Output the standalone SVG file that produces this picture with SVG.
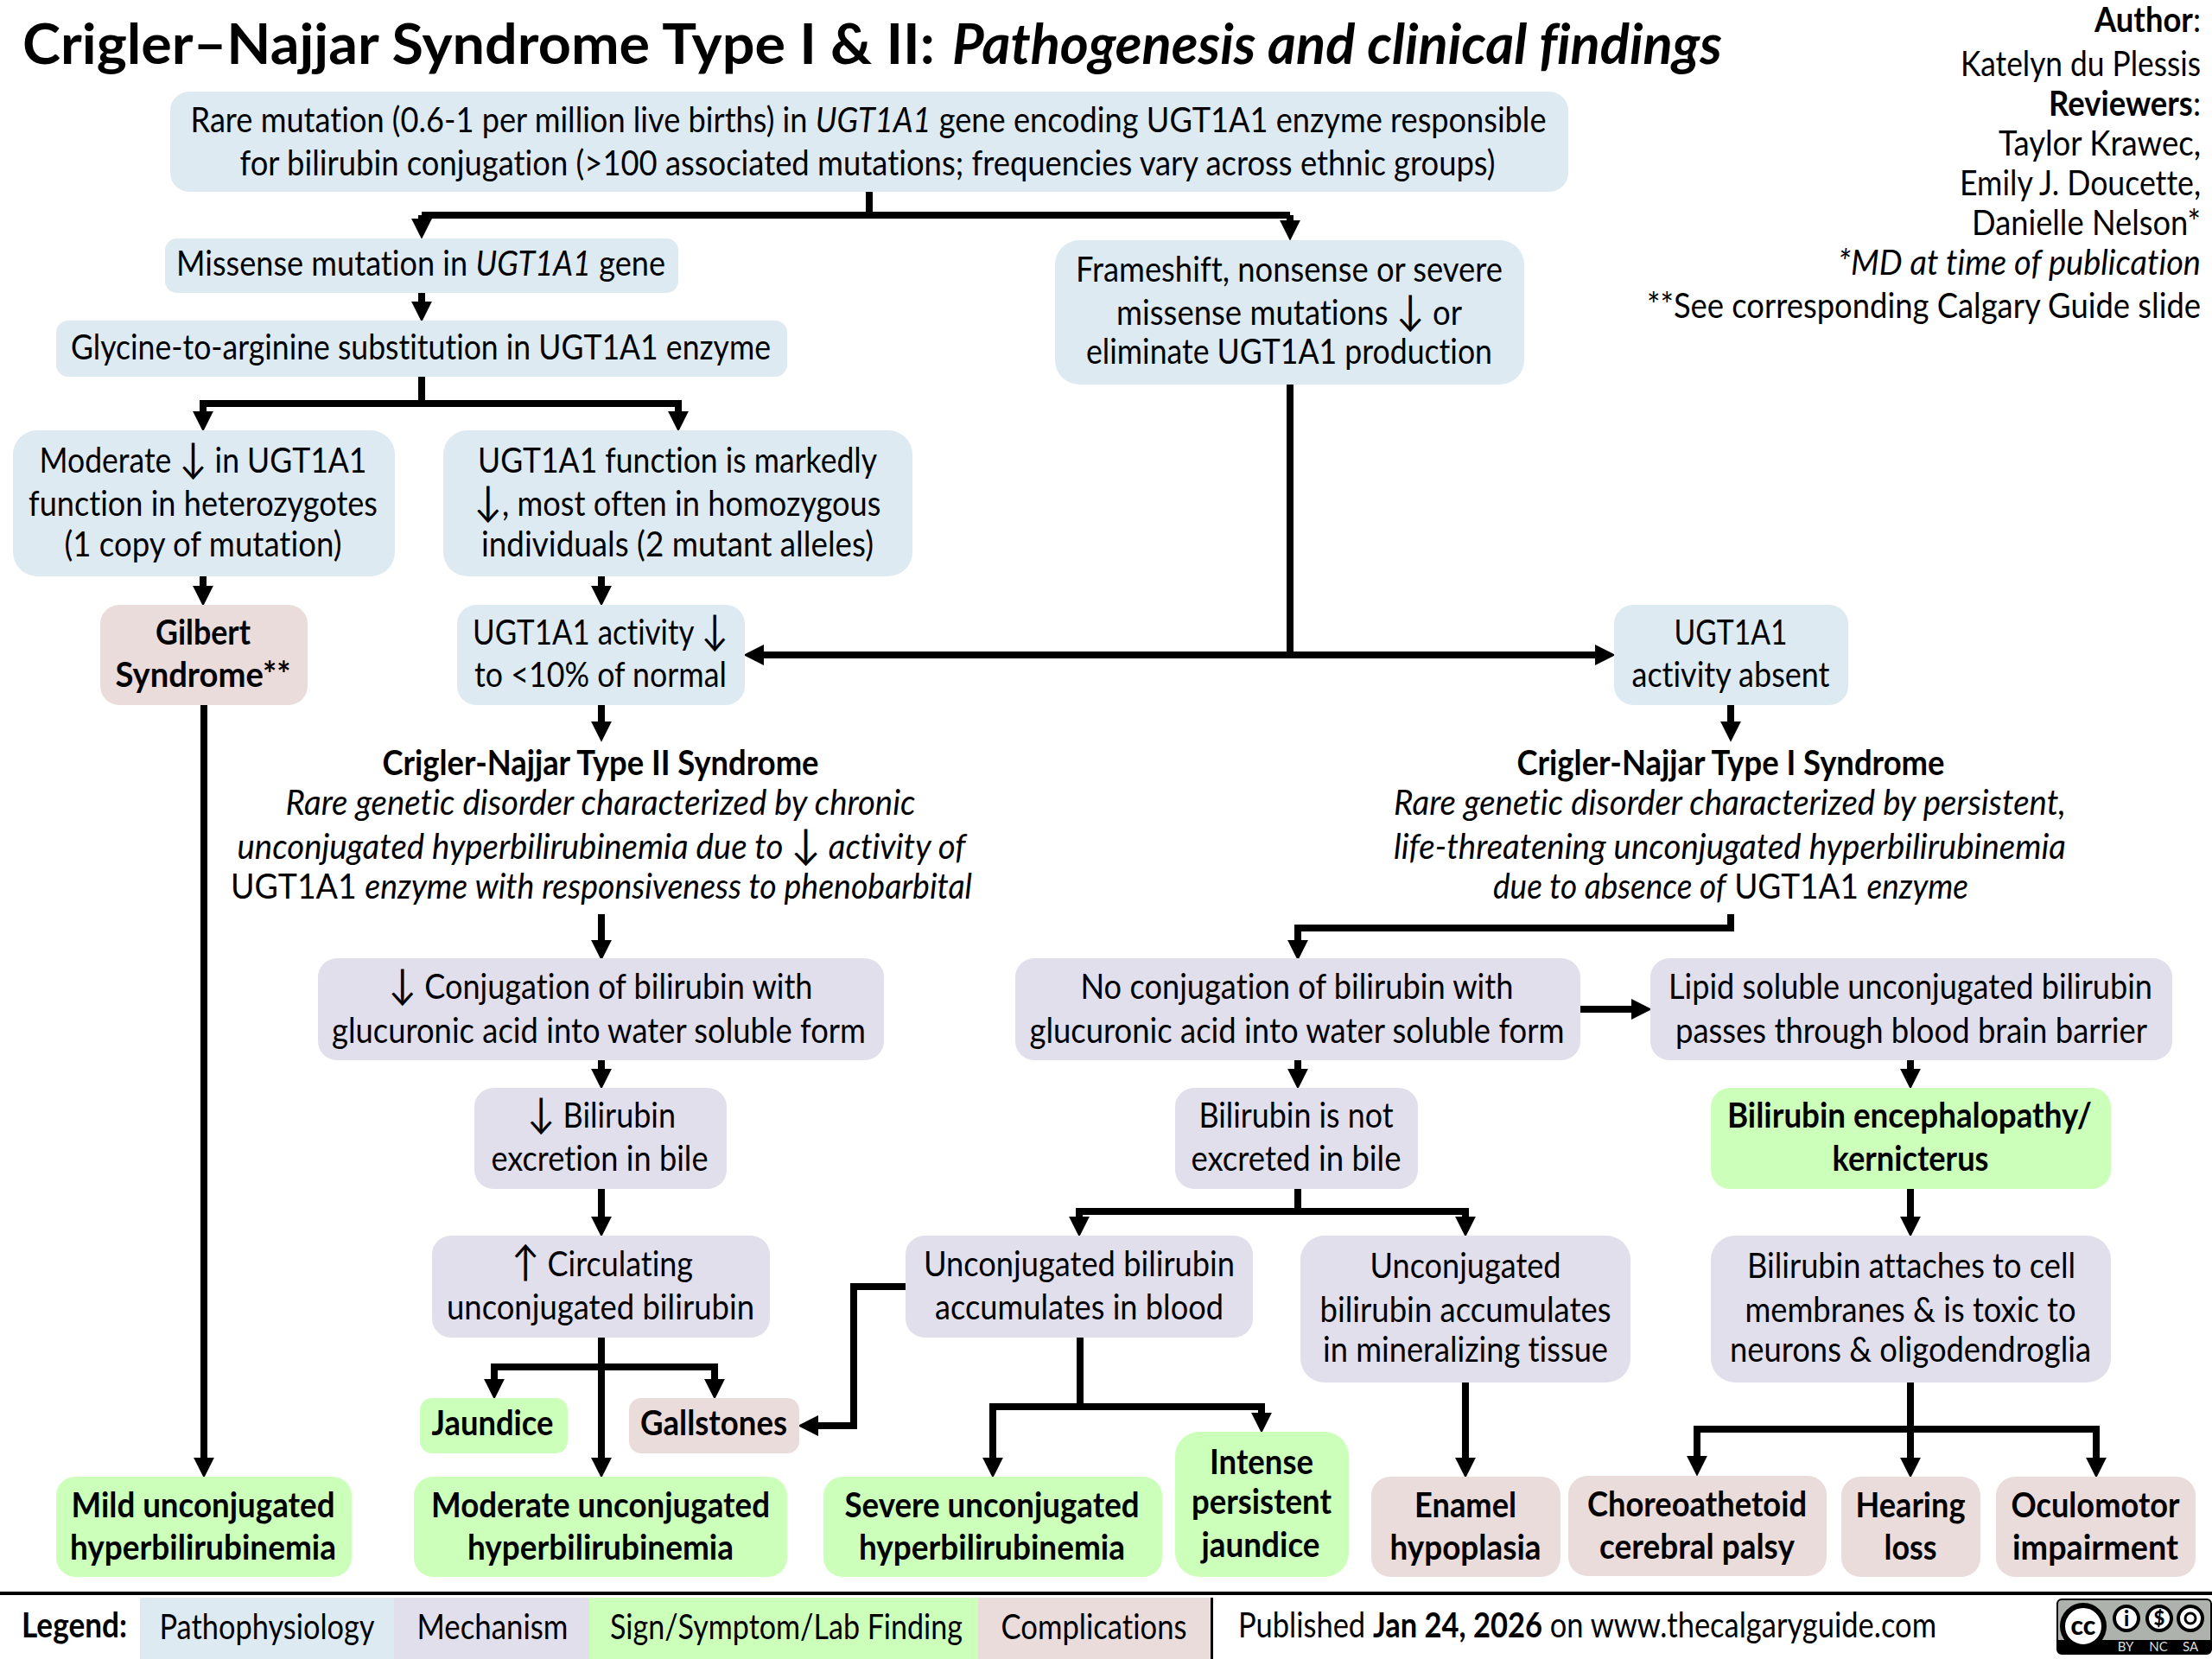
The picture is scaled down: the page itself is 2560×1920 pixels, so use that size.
<svg xmlns="http://www.w3.org/2000/svg" width="2560" height="1920" viewBox="0 0 2560 1920">
<style>
text{font-family:"Lato","Liberation Sans",sans-serif;font-size:40px;fill:#000;text-anchor:middle;font-variant-ligatures:none}
.b{font-weight:700}
.i{font-style:italic}
.r{text-anchor:end}
.s{text-anchor:start}
.ti{font-size:65px;font-weight:700;text-anchor:start}
.ar{font-size:48px;font-style:normal}
.blue{fill:#deeaf1}.pur{fill:#e1dfec}.grn{fill:#ccffba}.pnk{fill:#ebdcdc}
.c{fill:none;stroke:#000;stroke-width:8;stroke-linejoin:miter}
.cc{font-size:15px;fill:#ddd}
</style>
<defs>
<marker id="ah" markerUnits="userSpaceOnUse" markerWidth="24" markerHeight="24" viewBox="0 0 22 22" refX="2" refY="11" orient="auto"><path d="M0 0L22 11L0 22z" fill="#000"/></marker>
</defs>
<rect width="2560" height="1920" fill="#fff"/>
<g id="title">
<text class="ti" x="26" y="74"><tspan textLength="1056" lengthAdjust="spacingAndGlyphs">Crigler–Najjar Syndrome Type I &amp; II:</tspan> <tspan x="1102" class="i" textLength="891" lengthAdjust="spacingAndGlyphs">Pathogenesis and clinical findings</tspan></text>
</g>
<g id="authors">
<text class="r" x="2547" y="37" textLength="123" lengthAdjust="spacingAndGlyphs"><tspan class="b">Author</tspan>:</text>
<text class="r" x="2547" y="88" textLength="278" lengthAdjust="spacingAndGlyphs">Katelyn du Plessis</text>
<text class="r" x="2547" y="134" textLength="176" lengthAdjust="spacingAndGlyphs"><tspan class="b">Reviewers</tspan>:</text>
<text class="r" x="2547" y="180" textLength="234" lengthAdjust="spacingAndGlyphs">Taylor Krawec,</text>
<text class="r" x="2547" y="226" textLength="279" lengthAdjust="spacingAndGlyphs">Emily J. Doucette,</text>
<text class="r" x="2547" y="272" textLength="265" lengthAdjust="spacingAndGlyphs">Danielle Nelson*</text>
<text class="r i" x="2547" y="318" textLength="420" lengthAdjust="spacingAndGlyphs">*MD at time of publication</text>
<text class="r" x="2547" y="368" textLength="641" lengthAdjust="spacingAndGlyphs">**See corresponding Calgary Guide slide</text>
</g>
<g id="connectors">
<path class="c" d="M1006 222V249"/>
<path class="c" marker-end="url(#ah)" d="M488 249V255"/>
<path class="c" d="M488 249H1493"/>
<path class="c" marker-end="url(#ah)" d="M1493 249V257"/>
<path class="c" marker-end="url(#ah)" d="M488 339V351"/>
<path class="c" d="M488 436V467"/>
<path class="c" marker-end="url(#ah)" d="M785 467H235V478"/>
<path class="c" marker-end="url(#ah)" d="M235 467H785V478"/>
<path class="c" marker-end="url(#ah)" d="M235 667V680"/>
<path class="c" marker-end="url(#ah)" d="M696 667V680"/>
<path class="c" d="M1493 445V758"/>
<path class="c" marker-end="url(#ah)" d="M1493 758H882"/>
<path class="c" marker-end="url(#ah)" d="M1493 758H1848"/>
<path class="c" marker-end="url(#ah)" d="M236 816V1689"/>
<path class="c" marker-end="url(#ah)" d="M696 816V837"/>
<path class="c" marker-end="url(#ah)" d="M696 1058V1090"/>
<path class="c" marker-end="url(#ah)" d="M696 1227V1239"/>
<path class="c" marker-end="url(#ah)" d="M696 1376V1410"/>
<path class="c" marker-end="url(#ah)" d="M696 1548V1689"/>
<path class="c" marker-end="url(#ah)" d="M827 1582H572V1598"/>
<path class="c" marker-end="url(#ah)" d="M572 1582H827V1598"/>
<path class="c" marker-end="url(#ah)" d="M1048 1489H988V1650H945"/>
<path class="c" d="M1250 1548V1628"/>
<path class="c" marker-end="url(#ah)" d="M1460 1628H1149V1689"/>
<path class="c" marker-end="url(#ah)" d="M1149 1628H1460V1637"/>
<path class="c" marker-end="url(#ah)" d="M1502 1227V1239"/>
<path class="c" d="M1502 1376V1402"/>
<path class="c" marker-end="url(#ah)" d="M1696 1402H1249V1410"/>
<path class="c" marker-end="url(#ah)" d="M1249 1402H1696V1410"/>
<path class="c" marker-end="url(#ah)" d="M1696 1600V1689"/>
<path class="c" marker-end="url(#ah)" d="M1829 1168H1890"/>
<path class="c" marker-end="url(#ah)" d="M2003 816V837"/>
<path class="c" marker-end="url(#ah)" d="M2003 1058V1074H1502V1090"/>
<path class="c" marker-end="url(#ah)" d="M2211 1227V1239"/>
<path class="c" marker-end="url(#ah)" d="M2211 1376V1410"/>
<path class="c" marker-end="url(#ah)" d="M2211 1600V1689"/>
<path class="c" marker-end="url(#ah)" d="M2426 1654H1964V1687"/>
<path class="c" marker-end="url(#ah)" d="M1964 1654H2426V1689"/>
</g>
<g id="n-rare"><rect class="blue" x="197" y="106" width="1618" height="116" rx="22"/>
<text x="1005" y="153" textLength="1569" lengthAdjust="spacingAndGlyphs">Rare mutation (0.6-1 per million live births) in <tspan class="i">UGT1A1</tspan> gene encoding UGT1A1 enzyme responsible</text>
<text x="1004" y="203" textLength="1453" lengthAdjust="spacingAndGlyphs">for bilirubin conjugation (&gt;100 associated mutations; frequencies vary across ethnic groups)</text></g>
<g id="n-missense"><rect class="blue" x="191" y="276" width="594" height="63" rx="14"/>
<text x="487" y="319" textLength="566" lengthAdjust="spacingAndGlyphs">Missense mutation in <tspan class="i">UGT1A1</tspan> gene</text></g>
<g id="n-glycine"><rect class="blue" x="65" y="371" width="846" height="65" rx="14"/>
<text x="487" y="416" textLength="810" lengthAdjust="spacingAndGlyphs">Glycine-to-arginine substitution in UGT1A1 enzyme</text></g>
<g id="n-moderate"><rect class="blue" x="15" y="498" width="442" height="169" rx="28"/>
<text x="235" y="547" textLength="379" lengthAdjust="spacingAndGlyphs">Moderate <tspan class="ar">↓</tspan> in UGT1A1</text>
<text x="235" y="597" textLength="404" lengthAdjust="spacingAndGlyphs">function in heterozygotes</text>
<text x="235" y="644" textLength="321" lengthAdjust="spacingAndGlyphs">(1 copy of mutation)</text></g>
<g id="n-function"><rect class="blue" x="513" y="498" width="543" height="169" rx="28"/>
<text x="784" y="547" textLength="462" lengthAdjust="spacingAndGlyphs">UGT1A1 function is markedly</text>
<text x="784" y="597" textLength="471" lengthAdjust="spacingAndGlyphs"><tspan class="ar">↓</tspan>, most often in homozygous</text>
<text x="784" y="644" textLength="454" lengthAdjust="spacingAndGlyphs">individuals (2 mutant alleles)</text></g>
<g id="n-gilbert"><rect class="pnk" x="116" y="700" width="240" height="116" rx="22"/>
<text class="b" x="235" y="746" textLength="110" lengthAdjust="spacingAndGlyphs">Gilbert</text>
<text class="b" x="235" y="795" textLength="203" lengthAdjust="spacingAndGlyphs">Syndrome**</text></g>
<g id="n-activity"><rect class="blue" x="529" y="700" width="333" height="116" rx="22"/>
<text x="695" y="746" textLength="296" lengthAdjust="spacingAndGlyphs">UGT1A1 activity <tspan class="ar">↓</tspan></text>
<text x="695" y="795" textLength="292" lengthAdjust="spacingAndGlyphs">to &lt;10% of normal</text></g>
<g id="n-frameshift"><rect class="blue" x="1221" y="278" width="543" height="167" rx="28"/>
<text x="1492" y="326" textLength="494" lengthAdjust="spacingAndGlyphs">Frameshift, nonsense or severe</text>
<text x="1492" y="376" textLength="400" lengthAdjust="spacingAndGlyphs">missense mutations <tspan class="ar">↓</tspan> or</text>
<text x="1492" y="421" textLength="470" lengthAdjust="spacingAndGlyphs">eliminate UGT1A1 production</text></g>
<g id="n-absent"><rect class="blue" x="1868" y="700" width="271" height="116" rx="22"/>
<text x="2003" y="746" textLength="131" lengthAdjust="spacingAndGlyphs">UGT1A1</text>
<text x="2003" y="795" textLength="229" lengthAdjust="spacingAndGlyphs">activity absent</text></g>
<g id="n-type2">
<text class="b" x="695" y="897" textLength="505" lengthAdjust="spacingAndGlyphs">Crigler-Najjar Type II Syndrome</text>
<text class="i" x="695" y="943" textLength="729" lengthAdjust="spacingAndGlyphs">Rare genetic disorder characterized by chronic</text>
<text class="i" x="696" y="994" textLength="843" lengthAdjust="spacingAndGlyphs">unconjugated hyperbilirubinemia due to <tspan class="ar">↓</tspan> activity of</text>
<text x="696" y="1040" textLength="858" lengthAdjust="spacingAndGlyphs">UGT1A1 <tspan class="i">enzyme with responsiveness to phenobarbital</tspan></text></g>
<g id="n-type1">
<text class="b" x="2003" y="897" textLength="495" lengthAdjust="spacingAndGlyphs">Crigler-Najjar Type I Syndrome</text>
<text class="i" x="2002" y="943" textLength="778" lengthAdjust="spacingAndGlyphs">Rare genetic disorder characterized by persistent,</text>
<text class="i" x="2002" y="994" textLength="778" lengthAdjust="spacingAndGlyphs">life-threatening unconjugated hyperbilirubinemia</text>
<text x="2003" y="1040" textLength="550" lengthAdjust="spacingAndGlyphs"><tspan class="i">due to absence of</tspan> UGT1A1 <tspan class="i">enzyme</tspan></text></g>
<g id="n-conj"><rect class="pur" x="368" y="1109" width="655" height="118" rx="22"/>
<text x="695" y="1156" textLength="491" lengthAdjust="spacingAndGlyphs"><tspan class="ar">↓</tspan> Conjugation of bilirubin with</text>
<text x="693" y="1207" textLength="618" lengthAdjust="spacingAndGlyphs">glucuronic acid into water soluble form</text></g>
<g id="n-excretion"><rect class="pur" x="549" y="1259" width="292" height="117" rx="22"/>
<text x="696" y="1305" textLength="172" lengthAdjust="spacingAndGlyphs"><tspan class="ar">↓</tspan> Bilirubin</text>
<text x="694" y="1355" textLength="251" lengthAdjust="spacingAndGlyphs">excretion in bile</text></g>
<g id="n-circulating"><rect class="pur" x="500" y="1430" width="391" height="118" rx="22"/>
<text x="697" y="1477" textLength="210" lengthAdjust="spacingAndGlyphs"><tspan class="ar">↑</tspan> Circulating</text>
<text x="695" y="1527" textLength="356" lengthAdjust="spacingAndGlyphs">unconjugated bilirubin</text></g>
<g id="n-jaundice"><rect class="grn" x="486" y="1618" width="171" height="64" rx="14"/>
<text class="b" x="570" y="1661" textLength="141" lengthAdjust="spacingAndGlyphs">Jaundice</text></g>
<g id="n-gallstones"><rect class="pnk" x="728" y="1618" width="197" height="64" rx="14"/>
<text class="b" x="826" y="1661" textLength="170" lengthAdjust="spacingAndGlyphs">Gallstones</text></g>
<g id="n-mild"><rect class="grn" x="65" y="1709" width="342" height="116" rx="22"/>
<text class="b" x="235" y="1756" textLength="305" lengthAdjust="spacingAndGlyphs">Mild unconjugated</text>
<text class="b" x="235" y="1805" textLength="308" lengthAdjust="spacingAndGlyphs">hyperbilirubinemia</text></g>
<g id="n-moderate2"><rect class="grn" x="479" y="1709" width="432" height="116" rx="22"/>
<text class="b" x="695" y="1756" textLength="392" lengthAdjust="spacingAndGlyphs">Moderate unconjugated</text>
<text class="b" x="695" y="1805" textLength="308" lengthAdjust="spacingAndGlyphs">hyperbilirubinemia</text></g>
<g id="n-severe"><rect class="grn" x="953" y="1709" width="392" height="116" rx="22"/>
<text class="b" x="1148" y="1756" textLength="341" lengthAdjust="spacingAndGlyphs">Severe unconjugated</text>
<text class="b" x="1148" y="1805" textLength="308" lengthAdjust="spacingAndGlyphs">hyperbilirubinemia</text></g>
<g id="n-intense"><rect class="grn" x="1360" y="1657" width="201" height="168" rx="28"/>
<text class="b" x="1460" y="1706" textLength="120" lengthAdjust="spacingAndGlyphs">Intense</text>
<text class="b" x="1460" y="1752" textLength="162" lengthAdjust="spacingAndGlyphs">persistent</text>
<text class="b" x="1459" y="1802" textLength="137" lengthAdjust="spacingAndGlyphs">jaundice</text></g>
<g id="n-enamel"><rect class="pnk" x="1587" y="1709" width="219" height="116" rx="22"/>
<text class="b" x="1696" y="1756" textLength="118" lengthAdjust="spacingAndGlyphs">Enamel</text>
<text class="b" x="1696" y="1805" textLength="175" lengthAdjust="spacingAndGlyphs">hypoplasia</text></g>
<g id="n-choreo"><rect class="pnk" x="1815" y="1708" width="299" height="116" rx="22"/>
<text class="b" x="1964" y="1755" textLength="254" lengthAdjust="spacingAndGlyphs">Choreoathetoid</text>
<text class="b" x="1964" y="1804" textLength="226" lengthAdjust="spacingAndGlyphs">cerebral palsy</text></g>
<g id="n-hearing"><rect class="pnk" x="2131" y="1709" width="161" height="116" rx="22"/>
<text class="b" x="2211" y="1756" textLength="127" lengthAdjust="spacingAndGlyphs">Hearing</text>
<text class="b" x="2211" y="1805" textLength="61" lengthAdjust="spacingAndGlyphs">loss</text></g>
<g id="n-oculo"><rect class="pnk" x="2310" y="1709" width="231" height="116" rx="22"/>
<text class="b" x="2425" y="1756" textLength="195" lengthAdjust="spacingAndGlyphs">Oculomotor</text>
<text class="b" x="2425" y="1805" textLength="192" lengthAdjust="spacingAndGlyphs">impairment</text></g>
<g id="n-blood"><rect class="pur" x="1048" y="1430" width="402" height="118" rx="22"/>
<text x="1249" y="1477" textLength="360" lengthAdjust="spacingAndGlyphs">Unconjugated bilirubin</text>
<text x="1249" y="1527" textLength="334" lengthAdjust="spacingAndGlyphs">accumulates in blood</text></g>
<g id="n-mineral"><rect class="pur" x="1505" y="1430" width="382" height="170" rx="28"/>
<text x="1696" y="1479" textLength="221" lengthAdjust="spacingAndGlyphs">Unconjugated</text>
<text x="1696" y="1530" textLength="337" lengthAdjust="spacingAndGlyphs">bilirubin accumulates</text>
<text x="1696" y="1576" textLength="330" lengthAdjust="spacingAndGlyphs">in mineralizing tissue</text></g>
<g id="n-attach"><rect class="pur" x="1980" y="1430" width="463" height="170" rx="28"/>
<text x="2212" y="1479" textLength="380" lengthAdjust="spacingAndGlyphs">Bilirubin attaches to cell</text>
<text x="2211" y="1530" textLength="383" lengthAdjust="spacingAndGlyphs">membranes &amp; is toxic to</text>
<text x="2211" y="1576" textLength="418" lengthAdjust="spacingAndGlyphs">neurons &amp; oligodendroglia</text></g>
<g id="n-enceph"><rect class="grn" x="1980" y="1259" width="463" height="117" rx="22"/>
<text class="b" x="2210" y="1305" textLength="422" lengthAdjust="spacingAndGlyphs">Bilirubin encephalopathy/</text>
<text class="b" x="2211" y="1355" textLength="181" lengthAdjust="spacingAndGlyphs">kernicterus</text></g>
<g id="n-lipid"><rect class="pur" x="1910" y="1109" width="604" height="118" rx="22"/>
<text x="2211" y="1156" textLength="560" lengthAdjust="spacingAndGlyphs">Lipid soluble unconjugated bilirubin</text>
<text x="2212" y="1207" textLength="546" lengthAdjust="spacingAndGlyphs">passes through blood brain barrier</text></g>
<g id="n-noconj"><rect class="pur" x="1175" y="1109" width="654" height="118" rx="22"/>
<text x="1501" y="1156" textLength="501" lengthAdjust="spacingAndGlyphs">No conjugation of bilirubin with</text>
<text x="1501" y="1207" textLength="619" lengthAdjust="spacingAndGlyphs">glucuronic acid into water soluble form</text></g>
<g id="n-notexcreted"><rect class="pur" x="1360" y="1259" width="281" height="117" rx="22"/>
<text x="1500" y="1305" textLength="225" lengthAdjust="spacingAndGlyphs">Bilirubin is not</text>
<text x="1500" y="1355" textLength="243" lengthAdjust="spacingAndGlyphs">excreted in bile</text></g>
<g id="legend">
<rect x="0" y="1842" width="2560" height="4" fill="#000"/>
<rect class="blue" x="162" y="1849" width="294" height="71"/>
<rect class="pur" x="456" y="1849" width="226" height="71"/>
<rect class="grn" x="682" y="1849" width="450" height="71"/>
<rect class="pnk" x="1132" y="1849" width="270" height="71"/>
<rect x="1401" y="1849" width="3" height="71" fill="#000"/>
<text class="b" x="86" y="1895" textLength="122" lengthAdjust="spacingAndGlyphs">Legend:</text>
<text x="309" y="1897" textLength="249" lengthAdjust="spacingAndGlyphs">Pathophysiology</text>
<text x="570" y="1897" textLength="175" lengthAdjust="spacingAndGlyphs">Mechanism</text>
<text x="910" y="1897" textLength="408" lengthAdjust="spacingAndGlyphs">Sign/Symptom/Lab Finding</text>
<text x="1266" y="1897" textLength="215" lengthAdjust="spacingAndGlyphs">Complications</text>
<text class="s" x="1433" y="1895" textLength="808" lengthAdjust="spacingAndGlyphs">Published <tspan class="b">Jan 24, 2026</tspan> on www.thecalgaryguide.com</text>
</g>
<g id="cc-badge">
<rect x="2381" y="1851" width="178" height="63" rx="5" fill="#aeb2ac" stroke="#000" stroke-width="2"/>
<path d="M2381 1898H2559V1909a5 5 0 0 1-5 5H2386a5 5 0 0 1-5-5z" fill="#000"/>
<circle cx="2411" cy="1882" r="24" fill="#fff" stroke="#000" stroke-width="6"/>
<text x="2411" y="1892" style="font-size:30px;font-weight:900">cc</text>
<circle cx="2461" cy="1873" r="14" fill="#fff" stroke="#000" stroke-width="4"/>
<text x="2461" y="1882" style="font-size:24px;font-weight:900">i</text>
<circle cx="2499" cy="1873" r="14" fill="#fff" stroke="#000" stroke-width="4"/>
<text x="2499" y="1881" style="font-size:22px;font-weight:900">$</text>
<circle cx="2535" cy="1873" r="14" fill="#fff" stroke="#000" stroke-width="4"/>
<circle cx="2535" cy="1873" r="6" fill="none" stroke="#000" stroke-width="3"/>
<text class="cc" x="2460" y="1911">BY</text>
<text class="cc" x="2498" y="1911">NC</text>
<text class="cc" x="2535" y="1911">SA</text>
</g>
</svg>
